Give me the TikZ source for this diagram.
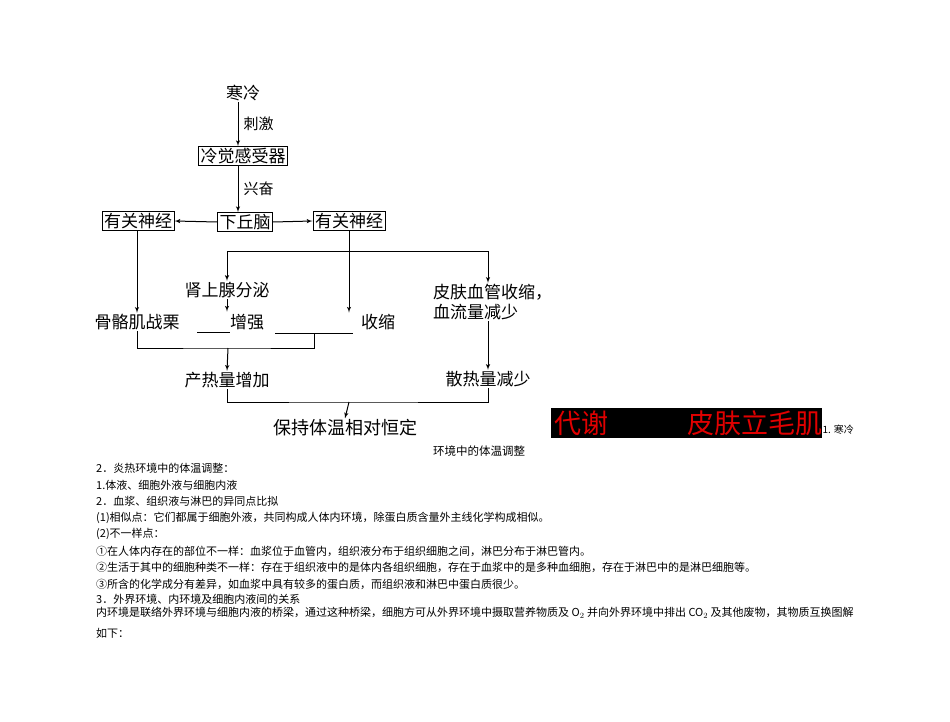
\documentclass[tikz,border=0pt]{standalone}
\usepackage{fontspec}
\setmainfont{Noto Sans CJK SC}
\definecolor{colanswer}{RGB}{225,0,0}
\usetikzlibrary{
	arrows,
	positioning
}
\tikzset{
	>=latex',
	flow/.style={->, line width=1pt},
	link/.style={line width=1pt},
	boxnode/.style={draw, line width=1pt, inner xsep=2pt, inner ysep=1.5pt, font=\fontsize{17}{20}\selectfont},
	textnode/.style={inner sep=1pt, font=\fontsize{17}{20}\selectfont},
	labelnode/.style={inner sep=1pt, font=\fontsize{15}{18}\selectfont},
	blanknode/.style={inner sep=0pt, minimum height=20pt},
	notenode/.style={anchor=west, inner sep=0pt, font=\fontsize{11}{13}\selectfont},
	answernode/.style={text=colanswer, inner sep=0pt, font=\fontsize{27}{30}\selectfont}
}

\begin{document}
\begin{tikzpicture}[x=1pt, y=-1pt]
	\useasboundingbox (0,0) rectangle (950,722);
	% flow chart
	\node[textnode] (cold) at (243,93) {寒冷};
	\node[boxnode] (receptor) at (243,156) {冷觉感受器};
	\node[boxnode] (hypo) at (245,222) {下丘脑};
	\node[boxnode] (nerveL) at (138,221) {有关神经};
	\node[boxnode] (nerveR) at (349,221) {有关神经};
	\node[textnode] (adrenal) at (227,290) {肾上腺分泌};
	\node[textnode] (shiver) at (137,322) {骨骼肌战栗};
	\node[textnode] (enhance) at (247,322) {增强};
	\node[textnode] (contract) at (378,322) {收缩};
	\node[textnode, anchor=west, align=left] (skin) at (432,302) {皮肤血管收缩，\\血流量减少};
	\node[textnode] (heatup) at (227,380) {产热量增加};
	\node[textnode] (heatdown) at (488,379) {散热量减少};
	\node[textnode, font=\fontsize{18}{20}\selectfont] (keep) at (345,428) {保持体温相对恒定};
	\node[blanknode, minimum width=33pt, anchor=south west] (blankA) at (197,332) {};
	\node[blanknode, minimum width=78pt, anchor=south west] (blankB) at (275,333) {};
	\coordinate (spine) at (238,0);
	\coordinate (split) at (349,251);
	\coordinate (merge) at (228,348);
	\coordinate (merge2) at (349,402);

	\draw[flow] (cold.south -| spine) -- node[labelnode, right=4pt]{刺激} (receptor.north -| spine);
	\draw[flow] (receptor.south -| spine) -- node[labelnode, right=4pt]{兴奋} (hypo.north -| spine);
	\draw[flow] (hypo.west) -- (nerveL.east);
	\draw[flow] (hypo.east) -- (nerveR.west);
	\draw[flow] (nerveL.south -| shiver.north) -- (shiver.north);
	\draw[flow] (nerveR.south) -- (nerveR.south |- blankB.north);
	\draw[flow] (split) -| (adrenal.north);
	\draw[flow] (split) -| (heatdown.north |- skin.north);
	\draw[flow] (adrenal.south) -- (adrenal.south |- blankA.north);
	\draw[link] (blankA.south west) -- (blankA.south east);
	\draw[link] (blankB.south west) -- (blankB.south east);
	\draw[link] (shiver.south) |- (merge) -| (blankB.south);
	\draw[flow] (merge) -- (heatup.north);
	\draw[flow] (heatdown.north |- skin.south) -- (heatdown.north);
	\draw[link] (heatup.south) |- (merge2) -| (heatdown.south);
	\draw[flow] (merge2) -- (keep.north);

	% answers
	\node[fill=black, minimum width=271pt, minimum height=30pt, anchor=north west, inner sep=0pt] (answerbox) at (551,408) {};
	\node[answernode, anchor=west] (answerA) at ([xshift=3pt]answerbox.west) {代谢};
	\node[answernode, anchor=east] (answerB) at (answerbox.east) {皮肤立毛肌};
	\node[anchor=base west, inner sep=0pt, font=\fontsize{10}{12}\selectfont] (tail) at ([yshift=5pt]answerbox.south east) {1. 寒冷};
	\node[font=\fontsize{11.5}{13}\selectfont] (caption) at (479,451) {环境中的体温调整};

	% notes
	\foreach \y/\txt [count=\i] in {
		468/{2．炎热环境中的体温调整：},
		485/{1.体液、细胞外液与细胞内液},
		501/{2．血浆、组织液与淋巴的异同点比拟},
		518/{(1)相似点：它们都属于细胞外液，共同构成人体内环境，除蛋白质含量外主线化学构成相似。},
		534/{(2)不一样点：},
		551/{①在人体内存在的部位不一样：血浆位于血管内，组织液分布于组织细胞之间，淋巴分布于淋巴管内。},
		567/{②生活于其中的细胞种类不一样：存在于组织液中的是体内各组织细胞，存在于血浆中的是多种血细胞，存在于淋巴中的是淋巴细胞等。},
		584/{③所含的化学成分有差异，如血浆中具有较多的蛋白质，而组织液和淋巴中蛋白质很少。},
		599/{3．外界环境、内环境及细胞内液间的关系},
		613/{内环境是联络外界环境与细胞内液的桥梁，通过这种桥梁，细胞方可从外界环境中摄取营养物质及 O$_2$ 并向外界环境中排出 CO$_2$ 及其他废物，其物质互换图解},
		633/{如下：}
	} {
		\node[notenode] (note\i) at (96,\y) {\txt};
	}
\end{tikzpicture}
\end{document}
